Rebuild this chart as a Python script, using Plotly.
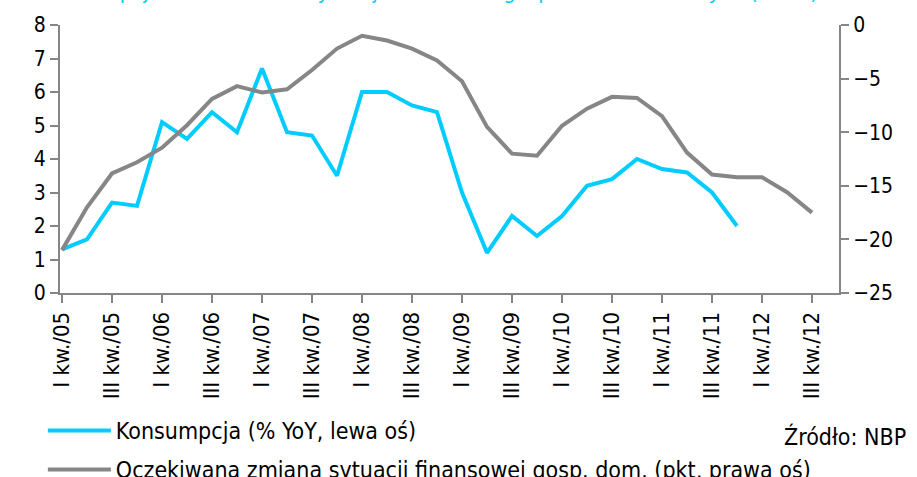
import plotly.graph_objects as go

quarters = []
for yr in range(5, 13):
    for q in ["I", "II", "III", "IV"]:
        quarters.append(f"{q} kw./{yr:02d}")

konsumpcja = [1.3, 1.6, 2.7, 2.6, 5.1, 4.6, 5.4, 4.8, 6.7, 4.8, 4.7, 3.5,
              6.0, 6.0, 5.6, 5.4, 3.0, 1.2, 2.3, 1.7, 2.3, 3.2, 3.4, 4.0,
              3.7, 3.6, 3.0, 2.0]
oczekiwana = [-21.0, -17.0, -13.85, -12.8, -11.45, -9.35, -6.9, -5.7, -6.3, -6.0,
              -4.2, -2.2, -1.0, -1.45, -2.2, -3.3, -5.25, -9.5, -12.0, -12.2,
              -9.4, -7.8, -6.7, -6.8, -8.5, -11.9, -13.95, -14.2, -14.2, -15.6,
              -17.5]

tick_labels = [q for q in quarters if q.startswith("I kw.") or q.startswith("III kw.")][:16]

FONT = "DejaVu Sans Condensed, DejaVu Sans, sans-serif"
CYAN = "#00CCFF"
GRAY = "#868686"

fig = go.Figure()
fig.add_trace(go.Scatter(x=quarters[:len(konsumpcja)], y=konsumpcja, mode="lines",
                         name="Konsumpcja (% YoY, lewa oś)", legendgroup="a",
                         line=dict(color=CYAN, width=4), yaxis="y"))
fig.add_trace(go.Scatter(x=quarters[:len(oczekiwana)], y=oczekiwana, mode="lines",
                         name="Oczekiwana zmiana sytuacji finansowej gosp. dom. (pkt, prawa oś)",
                         legendgroup="b",
                         line=dict(color=GRAY, width=4), yaxis="y2"))

axis_common = dict(showgrid=False, zeroline=False, showline=True, linecolor=GRAY,
                   linewidth=2, ticks="outside", tickcolor=GRAY, tickwidth=2, ticklen=8,
                   automargin=False)

fig.update_layout(
    width=917, height=477,
    margin=dict(l=60, r=78, t=25, b=184, autoexpand=False),
    paper_bgcolor="white", plot_bgcolor="white",
    font=dict(family=FONT, size=21, color="#000000"),
    xaxis=dict(type="category", categoryorder="array", categoryarray=quarters,
               range=[-0.08, 31.08], tickmode="array", tickvals=tick_labels,
               ticktext=tick_labels, tickangle=-90,
               tickfont=dict(family=FONT, size=22, color="#000000"), **axis_common),
    yaxis=dict(range=[0, 8], dtick=1,
               tickfont=dict(family=FONT, size=21, color="#000000"), **axis_common),
    yaxis2=dict(range=[-25, 0], dtick=5, overlaying="y", side="right",
                tickfont=dict(family=FONT, size=21, color="#000000"), **axis_common),
    showlegend=True,
    legend=dict(x=-0.022, y=-0.433, xanchor="left", yanchor="top", orientation="v",
                itemwidth=63, font=dict(family=FONT, size=23, color="#000000"),
                bgcolor="rgba(0,0,0,0)", tracegroupgap=6),
    annotations=[
        dict(text="Konsumpcja a oczekiwana sytuacja finansowa gospodarstw domowych (saldo)",
             xref="paper", yref="paper", x=-0.027, y=1.072, xanchor="left", yanchor="bottom",
             showarrow=False, font=dict(family=FONT, size=22, color=CYAN)),
        dict(text="Źródło: NBP", xref="paper", yref="paper", x=1.0886, y=-0.537,
             xanchor="right", yanchor="middle", showarrow=False,
             font=dict(family=FONT, size=23, color="#000000")),
    ],
)

fig.write_html("out.html", config={"displayModeBar": False},
               post_script="document.body.style.margin='0px';document.body.style.overflow='hidden';")
